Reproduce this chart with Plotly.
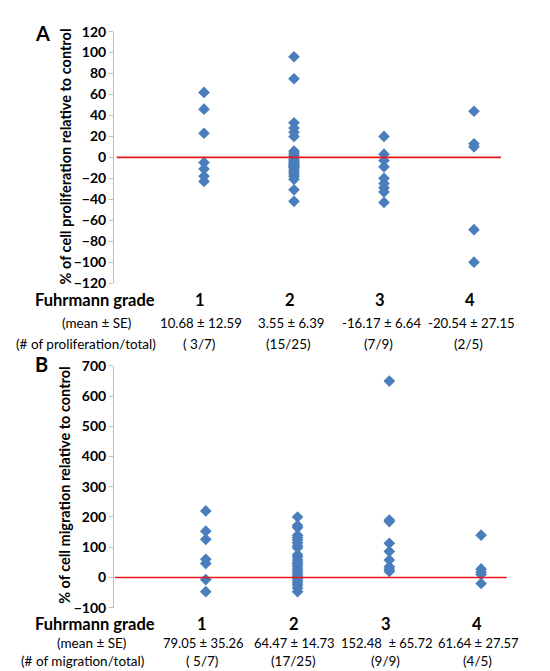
import plotly.graph_objects as go

W, H = 550, 671
FONT = "Lato"

# ---------------- data ----------------
grades = [1, 2, 3, 4]
grade_labels = ["1", "2", "3", "4"]

prolif = {
    1: [62, 46, 23, -5, -11, -18, -23],
    2: [96, 75, 33, 28, 24, 20, 6, 4, 2, 0, -2, -3, -5, -6, -7, -8, -9, -10,
        -12, -14, -16, -18, -21, -31, -42],
    3: [20, 3, -3, -9, -20, -25, -29, -33, -43],
    4: [44, 13, 10, -69, -100],
}
migr = {
    1: [220, 153, 126, 60, 46, -7, -47],
    2: [200, 172, 165, 140, 132, 125, 115, 105, 98, 75, 68, 58, 50, 44, 36,
        28, 20, 12, 5, -3, -10, -18, -25, -35, -47],
    3: [650, 190, 185, 113, 86, 58, 35, 27, 20],
    4: [140, 28, 18, 10, -20],
}

prolif_mean_se = ["10.68 ± 12.59", "3.55 ± 6.39", "-16.17 ± 6.64", "-20.54 ± 27.15"]
prolif_counts = ["( 3/7)", "(15/25)", "(7/9)", "(2/5)"]
migr_mean_se = ["79.05 ± 35.26", "64.47 ± 14.73", "152.48  ± 65.72", "61.64 ± 27.57"]
migr_counts = ["( 5/7)", "(17/25)", "(9/9)", "(4/5)"]

prolif_ticks = list(range(-120, 121, 20))
migr_ticks = list(range(-100, 701, 100))

# ---------------- layout helpers ----------------
def px(x):
    return x / W

def py(y):
    return 1 - y / H

BLUE = "#4A7EBB"
RED = "#E8161B"

fig = go.Figure()

def add_points(data, xa, ya):
    for g in grades:
        vals = data[g]
        fig.add_trace(go.Scatter(
            x=[g] * len(vals), y=vals, mode="markers",
            marker=dict(symbol="diamond", size=9, color=BLUE,
                        line=dict(width=0)),
            xaxis=xa, yaxis=ya, showlegend=False, hoverinfo="y"))

add_points(prolif, "x", "y")
add_points(migr, "x2", "y2")

axis_common = dict(
    showgrid=False, zeroline=False, showline=True, linecolor="#BFBFBF",
    linewidth=1, ticks="outside", ticklen=4, tickcolor="#BFBFBF",
    tickfont=dict(family=FONT, size=14, color="black", weight="bold"),
)

fig.update_layout(
    width=W, height=H, margin=dict(l=0, r=0, t=0, b=0),
    paper_bgcolor="white", plot_bgcolor="white",
    xaxis=dict(domain=[px(106), px(511)], range=[0, 4.5], visible=False),
    yaxis=dict(domain=[py(273), py(15)], range=[-120, 120],
               tickvals=prolif_ticks, **axis_common),
    xaxis2=dict(domain=[px(106), px(519)], range=[0, 4.5], visible=False,
                anchor="y2"),
    yaxis2=dict(domain=[py(606), py(358)], range=[-100, 700],
                tickvals=migr_ticks, anchor="x2", **axis_common),
)

# zero reference lines
fig.add_shape(type="line", xref="x", yref="y", x0=0.03, x1=4.3, y0=0, y1=0,
              line=dict(color=RED, width=1.6))
fig.add_shape(type="line", xref="x2", yref="y2", x0=0.01, x1=4.28, y0=0, y1=0,
              line=dict(color=RED, width=1.6))

ann = []

def text(x, y, s, size=13, bold=False, angle=0, xref="paper"):
    ann.append(dict(x=x, y=y, xref=xref, yref="paper", text=s,
                    showarrow=False, xanchor="center", yanchor="middle",
                    textangle=angle,
                    font=dict(family=FONT, size=size, color="black",
                              weight="bold" if bold else "normal")))

# panel labels
text(px(35), py(16), "A", size=20, bold=True)
text(px(33), py(356), "B", size=20, bold=True)

# y axis titles
text(px(57), py(143), "% of cell proliferation relative to control", size=14.5,
     bold=True, angle=-90)
text(px(57), py(480), "% of cell migration relative to control", size=14.5,
     bold=True, angle=-90)

# rows under panel A
text(px(87), py(290), "Fuhrmann grade", size=16.5, bold=True)
text(px(88), py(314), "(mean ± SE)", size=13.5)
text(px(78), py(336), "(# of proliferation/total)", size=13.5)
for g, lab, ms, cnt in zip(grades, grade_labels, prolif_mean_se, prolif_counts):
    text(g - 0.04, py(290), lab, size=16.5, bold=True, xref="x")
    text(g - 0.03, py(314), ms, size=13.2, xref="x")
    text(g - 0.06, py(336), cnt, size=13.5, xref="x")

# rows under panel B
text(px(87), py(623), "Fuhrmann grade", size=16.5, bold=True)
text(px(83), py(642), "(mean ± SE)", size=13.5)
text(px(74), py(661), "(# of migration/total)", size=13.5)
for g, lab, ms, cnt in zip(grades, grade_labels, migr_mean_se, migr_counts):
    ann.append(dict(x=g - 0.04, y=py(623), xref="x2", yref="paper", text=lab,
                    showarrow=False, xanchor="center", yanchor="middle",
                    font=dict(family=FONT, size=16.5, color="black", weight="bold")))
    ann.append(dict(x=g - 0.03, y=py(642), xref="x2", yref="paper", text=ms,
                    showarrow=False, xanchor="center", yanchor="middle",
                    font=dict(family=FONT, size=13, color="black")))
    ann.append(dict(x=g - 0.04, y=py(661), xref="x2", yref="paper", text=cnt,
                    showarrow=False, xanchor="center", yanchor="middle",
                    font=dict(family=FONT, size=13.5, color="black")))

fig.update_layout(annotations=ann)

fig.write_html("out.html")
